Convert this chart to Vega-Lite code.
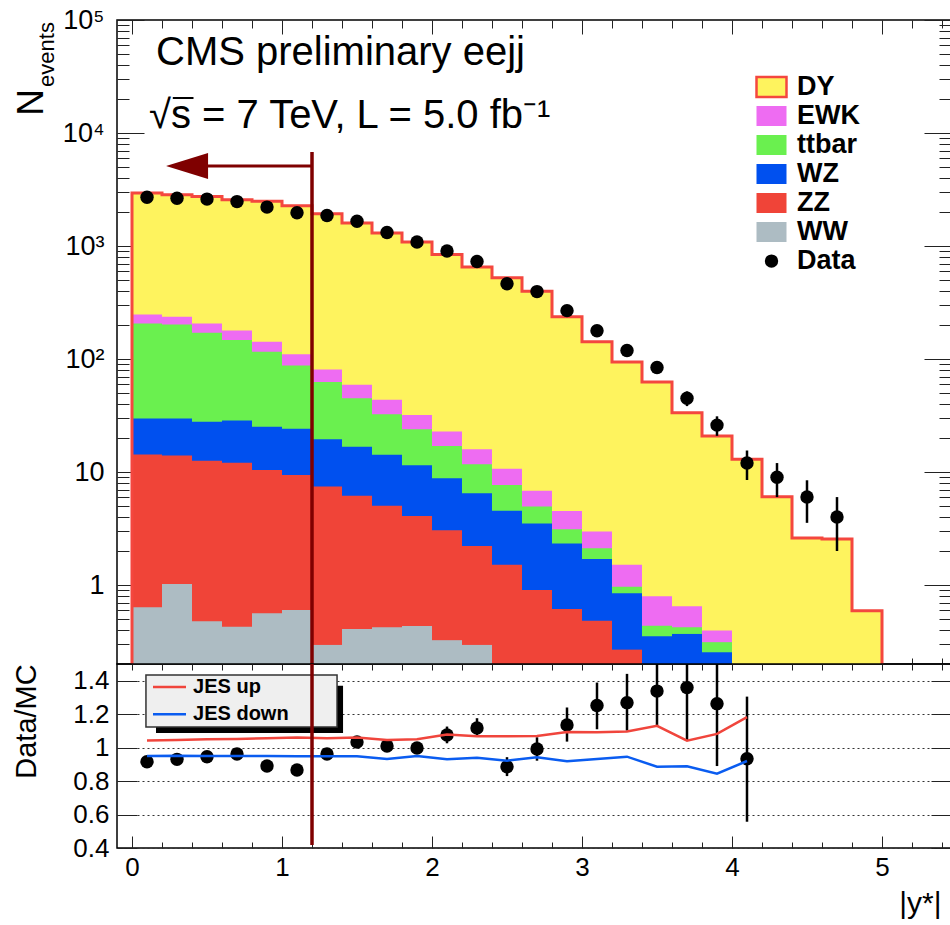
{
  "$schema": "https://vega.github.io/schema/vega-lite/v6.json",
  "padding": {"left": 11, "top": 5, "right": 0, "bottom": 0},
  "background": "white",
  "spacing": 0,
  "bounds": "flush",
  "config": {
    "view": {"stroke": "black", "strokeWidth": 1.5},
    "font": "Liberation Sans",
    "axis": {"domain": false, "grid": false, "labelFont": "Liberation Sans", "titleFont": "Liberation Sans", "labelColor": "black", "titleColor": "black", "tickColor": "#222", "tickWidth": 1, "labelOverlap": false, "titleFontWeight": "normal", "labelFlush": false}
  },
  "resolve": {"scale": {"color": "independent"}},
  "datasets": {
    "mc": [
      {"lo":0.0,"hi":0.2,"proc":"DY","top":2944},{"lo":0.0,"hi":0.2,"proc":"EWK","top":248},{"lo":0.0,"hi":0.2,"proc":"ttbar","top":206},{"lo":0.0,"hi":0.2,"proc":"WZ","top":29.7},{"lo":0.0,"hi":0.2,"proc":"ZZ","top":14.3},{"lo":0.0,"hi":0.2,"proc":"WW","top":0.635},
      {"lo":0.2,"hi":0.4,"proc":"DY","top":2845},{"lo":0.2,"hi":0.4,"proc":"EWK","top":236},{"lo":0.2,"hi":0.4,"proc":"ttbar","top":202},{"lo":0.2,"hi":0.4,"proc":"WZ","top":29.7},{"lo":0.2,"hi":0.4,"proc":"ZZ","top":14.0},{"lo":0.2,"hi":0.4,"proc":"WW","top":1.02},
      {"lo":0.4,"hi":0.6,"proc":"DY","top":2748},{"lo":0.4,"hi":0.6,"proc":"EWK","top":206},{"lo":0.4,"hi":0.6,"proc":"ttbar","top":171},{"lo":0.4,"hi":0.6,"proc":"WZ","top":27.9},{"lo":0.4,"hi":0.6,"proc":"ZZ","top":12.6},{"lo":0.4,"hi":0.6,"proc":"WW","top":0.478},
      {"lo":0.6,"hi":0.8,"proc":"DY","top":2570},{"lo":0.6,"hi":0.8,"proc":"EWK","top":179},{"lo":0.6,"hi":0.8,"proc":"ttbar","top":147},{"lo":0.6,"hi":0.8,"proc":"WZ","top":28.5},{"lo":0.6,"hi":0.8,"proc":"ZZ","top":12.1},{"lo":0.6,"hi":0.8,"proc":"WW","top":0.428},
      {"lo":0.8,"hi":1.0,"proc":"DY","top":2483},{"lo":0.8,"hi":1.0,"proc":"EWK","top":142},{"lo":0.8,"hi":1.0,"proc":"ttbar","top":116},{"lo":0.8,"hi":1.0,"proc":"WZ","top":25.2},{"lo":0.8,"hi":1.0,"proc":"ZZ","top":10.4},{"lo":0.8,"hi":1.0,"proc":"WW","top":0.562},
      {"lo":1.0,"hi":1.2,"proc":"DY","top":2276},{"lo":1.0,"hi":1.2,"proc":"EWK","top":110},{"lo":1.0,"hi":1.2,"proc":"ttbar","top":87.7},{"lo":1.0,"hi":1.2,"proc":"WZ","top":24.2},{"lo":1.0,"hi":1.2,"proc":"ZZ","top":9.43},{"lo":1.0,"hi":1.2,"proc":"WW","top":0.60},
      {"lo":1.2,"hi":1.4,"proc":"DY","top":1933},{"lo":1.2,"hi":1.4,"proc":"EWK","top":80.9},{"lo":1.2,"hi":1.4,"proc":"ttbar","top":62.5},{"lo":1.2,"hi":1.4,"proc":"WZ","top":19.5},{"lo":1.2,"hi":1.4,"proc":"ZZ","top":7.45},{"lo":1.2,"hi":1.4,"proc":"WW","top":0.295},
      {"lo":1.4,"hi":1.6,"proc":"DY","top":1600},{"lo":1.4,"hi":1.6,"proc":"EWK","top":59.3},{"lo":1.4,"hi":1.6,"proc":"ttbar","top":44.9},{"lo":1.4,"hi":1.6,"proc":"WZ","top":16.7},{"lo":1.4,"hi":1.6,"proc":"ZZ","top":6.15},{"lo":1.4,"hi":1.6,"proc":"WW","top":0.409},
      {"lo":1.6,"hi":1.8,"proc":"DY","top":1306},{"lo":1.6,"hi":1.8,"proc":"EWK","top":43.7},{"lo":1.6,"hi":1.8,"proc":"ttbar","top":32.4},{"lo":1.6,"hi":1.8,"proc":"WZ","top":14.2},{"lo":1.6,"hi":1.8,"proc":"ZZ","top":5.02},{"lo":1.6,"hi":1.8,"proc":"WW","top":0.423},
      {"lo":1.8,"hi":2.0,"proc":"DY","top":1087},{"lo":1.8,"hi":2.0,"proc":"EWK","top":32.0},{"lo":1.8,"hi":2.0,"proc":"ttbar","top":23.9},{"lo":1.8,"hi":2.0,"proc":"WZ","top":11.5},{"lo":1.8,"hi":2.0,"proc":"ZZ","top":4.09},{"lo":1.8,"hi":2.0,"proc":"WW","top":0.434},
      {"lo":2.0,"hi":2.2,"proc":"DY","top":839},{"lo":2.0,"hi":2.2,"proc":"EWK","top":22.8},{"lo":2.0,"hi":2.2,"proc":"ttbar","top":17.0},{"lo":2.0,"hi":2.2,"proc":"WZ","top":8.81},{"lo":2.0,"hi":2.2,"proc":"ZZ","top":3.06},{"lo":2.0,"hi":2.2,"proc":"WW","top":0.325},
      {"lo":2.2,"hi":2.4,"proc":"DY","top":653},{"lo":2.2,"hi":2.4,"proc":"EWK","top":15.9},{"lo":2.2,"hi":2.4,"proc":"ttbar","top":11.7},{"lo":2.2,"hi":2.4,"proc":"WZ","top":6.50},{"lo":2.2,"hi":2.4,"proc":"ZZ","top":2.22},{"lo":2.2,"hi":2.4,"proc":"WW","top":0.295},
      {"lo":2.4,"hi":2.6,"proc":"DY","top":523},{"lo":2.4,"hi":2.6,"proc":"EWK","top":10.7},{"lo":2.4,"hi":2.6,"proc":"ttbar","top":7.69},{"lo":2.4,"hi":2.6,"proc":"WZ","top":4.53},{"lo":2.4,"hi":2.6,"proc":"ZZ","top":1.51},
      {"lo":2.6,"hi":2.8,"proc":"DY","top":398},{"lo":2.6,"hi":2.8,"proc":"EWK","top":6.81},{"lo":2.6,"hi":2.8,"proc":"ttbar","top":4.96},{"lo":2.6,"hi":2.8,"proc":"WZ","top":3.51},{"lo":2.6,"hi":2.8,"proc":"ZZ","top":0.904},
      {"lo":2.8,"hi":3.0,"proc":"DY","top":236},{"lo":2.8,"hi":3.0,"proc":"EWK","top":4.51},{"lo":2.8,"hi":3.0,"proc":"ttbar","top":3.12},{"lo":2.8,"hi":3.0,"proc":"WZ","top":2.33},{"lo":2.8,"hi":3.0,"proc":"ZZ","top":0.614},
      {"lo":3.0,"hi":3.2,"proc":"DY","top":142},{"lo":3.0,"hi":3.2,"proc":"EWK","top":2.98},{"lo":3.0,"hi":3.2,"proc":"ttbar","top":2.11},{"lo":3.0,"hi":3.2,"proc":"WZ","top":1.70},{"lo":3.0,"hi":3.2,"proc":"ZZ","top":0.484},
      {"lo":3.2,"hi":3.4,"proc":"DY","top":93.9},{"lo":3.2,"hi":3.4,"proc":"EWK","top":1.51},{"lo":3.2,"hi":3.4,"proc":"ttbar","top":0.966},{"lo":3.2,"hi":3.4,"proc":"WZ","top":0.844},{"lo":3.2,"hi":3.4,"proc":"ZZ","top":0.268},
      {"lo":3.4,"hi":3.6,"proc":"DY","top":62.5},{"lo":3.4,"hi":3.6,"proc":"EWK","top":0.795},{"lo":3.4,"hi":3.6,"proc":"ttbar","top":0.437},{"lo":3.4,"hi":3.6,"proc":"WZ","top":0.352},
      {"lo":3.6,"hi":3.8,"proc":"DY","top":33.5},{"lo":3.6,"hi":3.8,"proc":"EWK","top":0.649},{"lo":3.6,"hi":3.8,"proc":"ttbar","top":0.423},{"lo":3.6,"hi":3.8,"proc":"WZ","top":0.369},
      {"lo":3.8,"hi":4.0,"proc":"DY","top":20.8},{"lo":3.8,"hi":4.0,"proc":"EWK","top":0.395},{"lo":3.8,"hi":4.0,"proc":"ttbar","top":0.312},{"lo":3.8,"hi":4.0,"proc":"WZ","top":0.254},
      {"lo":4.0,"hi":4.2,"proc":"DY","top":13.0},
      {"lo":4.2,"hi":4.4,"proc":"DY","top":6.03},
      {"lo":4.4,"hi":4.6,"proc":"DY","top":2.60},
      {"lo":4.6,"hi":4.8,"proc":"DY","top":2.55},
      {"lo":4.8,"hi":5.0,"proc":"DY","top":0.593}
    ],
    "outline": [
      {"i":0,"x":0.0,"y":0.2},{"i":1,"x":0.0,"y":2944},{"i":2,"x":0.2,"y":2845},{"i":3,"x":0.4,"y":2748},{"i":4,"x":0.6,"y":2570},
      {"i":5,"x":0.8,"y":2483},{"i":6,"x":1.0,"y":2276},{"i":7,"x":1.2,"y":1933},{"i":8,"x":1.4,"y":1600},{"i":9,"x":1.6,"y":1306},
      {"i":10,"x":1.8,"y":1087},{"i":11,"x":2.0,"y":839},{"i":12,"x":2.2,"y":653},{"i":13,"x":2.4,"y":523},{"i":14,"x":2.6,"y":398},
      {"i":15,"x":2.8,"y":236},{"i":16,"x":3.0,"y":142},{"i":17,"x":3.2,"y":93.9},{"i":18,"x":3.4,"y":62.5},{"i":19,"x":3.6,"y":33.5},
      {"i":20,"x":3.8,"y":20.8},{"i":21,"x":4.0,"y":13.0},{"i":22,"x":4.2,"y":6.03},{"i":23,"x":4.4,"y":2.60},{"i":24,"x":4.6,"y":2.55},
      {"i":25,"x":4.8,"y":0.593},{"i":26,"x":5.0,"y":0.593},{"i":27,"x":5.0,"y":0.2}
    ],
    "obs": [
      {"x":0.1,"n":2697,"lo":2645,"hi":2749},{"x":0.3,"n":2646,"lo":2595,"hi":2697},{"x":0.5,"n":2600,"lo":2549,"hi":2651},
      {"x":0.7,"n":2472,"lo":2422,"hi":2522},{"x":0.9,"n":2210,"lo":2163,"hi":2257},{"x":1.1,"n":1971,"lo":1927,"hi":2015},
      {"x":1.3,"n":1860,"lo":1817,"hi":1903},{"x":1.5,"n":1654,"lo":1613,"hi":1695},{"x":1.7,"n":1319,"lo":1283,"hi":1355},
      {"x":1.9,"n":1085,"lo":1052,"hi":1118},{"x":2.1,"n":903,"lo":873,"hi":933},{"x":2.3,"n":730,"lo":703,"hi":757},
      {"x":2.5,"n":463,"lo":441,"hi":485},{"x":2.7,"n":395,"lo":375,"hi":415},{"x":2.9,"n":268,"lo":252,"hi":284},
      {"x":3.1,"n":178,"lo":165,"hi":191},{"x":3.3,"n":119,"lo":108,"hi":130},{"x":3.5,"n":84,"lo":75,"hi":93},
      {"x":3.7,"n":45,"lo":38.3,"hi":51.7},{"x":3.9,"n":26,"lo":20.9,"hi":31.1},{"x":4.1,"n":12,"lo":8.5,"hi":15.5},
      {"x":4.3,"n":9,"lo":6,"hi":12},{"x":4.5,"n":6,"lo":3.55,"hi":8.45},{"x":4.7,"n":4,"lo":2,"hi":6}
    ],
    "ratio": [
      {"x":0.1,"r":0.916,"lo":0.900,"hi":0.932,"up":1.042,"down":0.950},
      {"x":0.3,"r":0.930,"lo":0.914,"hi":0.946,"up":1.046,"down":0.952},
      {"x":0.5,"r":0.946,"lo":0.930,"hi":0.962,"up":1.050,"down":0.950},
      {"x":0.7,"r":0.962,"lo":0.946,"hi":0.978,"up":1.052,"down":0.950},
      {"x":0.9,"r":0.890,"lo":0.874,"hi":0.906,"up":1.056,"down":0.950},
      {"x":1.1,"r":0.866,"lo":0.850,"hi":0.882,"up":1.060,"down":0.948},
      {"x":1.3,"r":0.962,"lo":0.944,"hi":0.980,"up":1.056,"down":0.948},
      {"x":1.5,"r":1.034,"lo":1.012,"hi":1.056,"up":1.060,"down":0.948},
      {"x":1.7,"r":1.010,"lo":0.986,"hi":1.034,"up":1.046,"down":0.932},
      {"x":1.9,"r":0.998,"lo":0.972,"hi":1.024,"up":1.050,"down":0.950},
      {"x":2.1,"r":1.076,"lo":1.026,"hi":1.126,"up":1.078,"down":0.930},
      {"x":2.3,"r":1.118,"lo":1.070,"hi":1.176,"up":1.068,"down":0.940},
      {"x":2.5,"r":0.886,"lo":0.830,"hi":0.943,"up":1.068,"down":0.922},
      {"x":2.7,"r":0.992,"lo":0.922,"hi":1.062,"up":1.070,"down":0.942},
      {"x":2.9,"r":1.136,"lo":1.036,"hi":1.240,"up":1.094,"down":0.918},
      {"x":3.1,"r":1.252,"lo":1.110,"hi":1.389,"up":1.092,"down":0.932},
      {"x":3.3,"r":1.269,"lo":1.102,"hi":1.441,"up":1.096,"down":0.946},
      {"x":3.5,"r":1.338,"lo":1.130,"hi":1.500,"up":1.130,"down":0.886},
      {"x":3.7,"r":1.359,"lo":1.042,"hi":1.500,"up":1.042,"down":0.888},
      {"x":3.9,"r":1.263,"lo":0.890,"hi":1.500,"up":1.082,"down":0.844},
      {"x":4.1,"r":0.934,"lo":0.557,"hi":1.305,"up":1.182,"down":0.920}
    ]
  },
  "vconcat": [
    {
      "width": 834,
      "height": 644,
      "resolve": {"axis": {"x": "independent", "y": "independent"}},
      "layer": [
        {
          "data": {"name": "mc"},
          "mark": {"type": "rect"},
          "encoding": {
            "x": {"field": "lo", "type": "quantitative", "scale": {"domain": [-0.1, 5.46], "nice": false, "zero": false},
                  "axis": {"orient": "bottom", "values": [0,1,2,3,4,5], "labels": false, "tickSize": -10, "title": null}},
            "x2": {"field": "hi"},
            "y": {"field": "top", "type": "quantitative", "scale": {"type": "log", "domain": [0.2, 100000], "nice": false},
                  "axis": {"orient": "left", "values": [1,10,100,1000,10000,100000], "ticks": false, "labelFontSize": 27, "labelPadding": 13,
                           "labelExpr": "datum.value >= 99999 ? '10⁵' : datum.value >= 9999 ? '10⁴' : datum.value >= 999 ? '10³' : datum.value >= 99 ? '10²' : datum.value >= 9 ? '10' : '1'",
                           "title": "N", "titleFontSize": 37, "titleAngle": 270, "titleX": -75, "titleY": 82, "titleAlign": "center", "titleBaseline": "alphabetic"}},
            "y2": {"datum": 0.2},
            "color": {"field": "proc", "type": "nominal",
                      "scale": {"domain": ["DY","EWK","ttbar","WZ","ZZ","WW","Data"], "range": ["#fef35e","#ee6cf2","#6af04f","#0050ef","#f04438","#adbcc3","#000000"]},
                      "legend": {"orient": "none", "legendX": 638, "legendY": 53, "title": null, "padding": 0,
                                 "labelFont": "Liberation Sans", "labelFontWeight": "bold", "labelFontSize": 27, "labelColor": "black",
                                 "labelOffset": 9, "symbolSize": 713, "symbolStrokeWidth": 1.5, "symbolType": "M-1,-0.667L1,-0.667L1,0.667L-1,0.667Z", "rowPadding": 0,
                                 "clipHeight": 28.2,
                                 "symbolOpacity": 1,
                                 "encode": {"symbols": {"update": {
                                   "shape": {"signal": "datum.value === 'Data' ? 'circle' : 'M-1,-0.667L1,-0.667L1,0.667L-1,0.667Z'"},
                                   "size": {"signal": "datum.value === 'Data' ? 180 : 900"},
                                   "stroke": {"signal": "datum.value === 'DY' ? '#f4473f' : 'transparent'"},
                                   "strokeWidth": {"value": 2.5}}}}}}
          }
        },
        {
          "data": {"name": "outline"},
          "mark": {"type": "line", "interpolate": "step-after", "color": "#f4473f", "strokeWidth": 3},
          "encoding": {
            "x": {"field": "x", "type": "quantitative",
                  "axis": {"orient": "bottom", "values": [0.2,0.4,0.6,0.8,1.2,1.4,1.6,1.8,2.2,2.4,2.6,2.8,3.2,3.4,3.6,3.8,4.2,4.4,4.6,4.8,5.2,5.4], "labels": false, "tickSize": -6, "title": null}},
            "y": {"field": "y", "type": "quantitative",
                  "axis": {"orient": "left", "values": [0.3,0.4,0.5,0.6,0.7,0.8,0.9,2,3,4,5,6,7,8,9,20,30,40,50,60,70,80,90,200,300,400,500,600,700,800,900,2000,3000,4000,5000,6000,7000,8000,9000,20000,30000,40000,50000,60000,70000,80000,90000],
                           "labels": false, "tickSize": -12,
                           "title": "events", "titleFontSize": 22, "titleAngle": 270, "titleX": -64, "titleY": 34, "titleAlign": "center", "titleBaseline": "alphabetic"}},
            "order": {"field": "i", "type": "quantitative"}
          }
        },
        {
          "data": {"name": "obs"},
          "mark": {"type": "rule", "strokeWidth": 2.5, "color": "black"},
          "encoding": {
            "x": {"field": "x", "type": "quantitative", "axis": {"orient": "top", "values": [0,1,2,3,4,5], "labels": false, "tickSize": -14, "title": null}},
            "y": {"field": "lo", "type": "quantitative", "axis": {"orient": "left", "values": [1,10,100,1000,10000,100000], "labels": false, "tickSize": -27, "title": null}},
            "y2": {"field": "hi"}
          }
        },
        {
          "data": {"name": "obs"},
          "mark": {"type": "point", "filled": true, "size": 180, "color": "black", "opacity": 1},
          "encoding": {
            "x": {"field": "x", "type": "quantitative", "axis": {"orient": "top", "values": [0.2,0.4,0.6,0.8,1.2,1.4,1.6,1.8,2.2,2.4,2.6,2.8,3.2,3.4,3.6,3.8,4.2,4.4,4.6,4.8,5.2,5.4], "labels": false, "tickSize": -8, "title": null}},
            "y": {"field": "n", "type": "quantitative", "axis": {"orient": "right", "values": [1,10,100,1000,10000,100000], "labels": false, "tickSize": -27, "title": null}}
          }
        },
        {
          "data": {"values": [{}]},
          "mark": {"type": "rule", "color": "#7f0000", "strokeWidth": 3.5},
          "encoding": {
            "x": {"datum": 1.2, "type": "quantitative", "axis": null},
            "y": {"datum": 6790, "type": "quantitative",
                  "axis": {"orient": "right", "values": [0.3,0.4,0.5,0.6,0.7,0.8,0.9,2,3,4,5,6,7,8,9,20,30,40,50,60,70,80,90,200,300,400,500,600,700,800,900,2000,3000,4000,5000,6000,7000,8000,9000,20000,30000,40000,50000,60000,70000,80000,90000],
                           "labels": false, "tickSize": -12, "title": null}},
            "y2": {"datum": 0.2}
          }
        },
        {
          "data": {"values": [{}]},
          "mark": {"type": "rule", "color": "#7f0000", "strokeWidth": 3},
          "encoding": {
            "x": {"datum": 0.5, "type": "quantitative", "axis": null},
            "x2": {"datum": 1.2},
            "y": {"datum": 5105, "type": "quantitative", "axis": null}
          }
        },
        {
          "data": {"values": [{}]},
          "mark": {"type": "point", "shape": "M-1,0L1,-0.62L1,0.62Z", "filled": true, "size": 1764, "color": "#7f0000", "opacity": 1},
          "encoding": {
            "x": {"datum": 0.367, "type": "quantitative", "axis": null},
            "y": {"datum": 5105, "type": "quantitative", "axis": null}
          }
        },
        {
          "data": {"values": [{}]},
          "mark": {"type": "text", "text": "CMS preliminary eejj", "font": "Liberation Sans", "fontSize": 40, "align": "left", "baseline": "alphabetic", "color": "black"},
          "encoding": {
            "x": {"datum": 0.16, "type": "quantitative", "axis": null},
            "y": {"datum": 40050, "type": "quantitative", "axis": null}
          }
        },
        {
          "data": {"values": [{}]},
          "mark": {"type": "text", "text": "√s = 7 TeV, L = 5.0 fb⁻¹", "font": "Liberation Sans", "fontSize": 40, "align": "left", "baseline": "alphabetic", "color": "black"},
          "encoding": {
            "x": {"datum": 0.113, "type": "quantitative", "axis": null},
            "y": {"datum": 11120, "type": "quantitative", "axis": null}
          }
        },
        {
          "data": {"values": [{}]},
          "mark": {"type": "rule", "color": "black", "strokeWidth": 2},
          "encoding": {
            "x": {"datum": 0.272, "type": "quantitative", "axis": null},
            "x2": {"datum": 0.41},
            "y": {"datum": 20400, "type": "quantitative", "axis": null}
          }
        }
      ]
    },
    {
      "width": 834,
      "height": 184,
      "resolve": {"axis": {"x": "independent", "y": "independent"}},
      "layer": [
        {
          "data": {"name": "ratio"},
          "mark": {"type": "rule", "strokeWidth": 2.5, "color": "black"},
          "encoding": {
            "x": {"field": "x", "type": "quantitative", "scale": {"domain": [-0.1, 5.46], "nice": false, "zero": false},
                  "axis": {"orient": "bottom", "values": [0,1,2,3,4,5], "ticks": false, "labelFontSize": 26, "labelPadding": 6,
                           "title": "|y*|", "titleFontSize": 30, "titleX": 824, "titleY": 64, "titleAlign": "right", "titleBaseline": "alphabetic"}},
            "y": {"field": "lo", "type": "quantitative", "scale": {"domain": [0.4, 1.5], "nice": false, "zero": false},
                  "axis": {"orient": "left", "values": [0.4,0.6,0.8,1,1.2,1.4], "ticks": false, "format": "~g", "labelFontSize": 26, "labelPadding": 8,
                           "grid": true, "gridDash": [2,3], "gridColor": "#333", "gridWidth": 1,
                           "title": "Data/MC", "titleFontSize": 29, "titleAngle": 270, "titleX": -82, "titleY": 57, "titleAlign": "center", "titleBaseline": "alphabetic"}},
            "y2": {"field": "hi"}
          }
        },
        {
          "data": {"name": "ratio"},
          "mark": {"type": "point", "filled": true, "size": 180, "color": "black", "opacity": 1},
          "encoding": {
            "x": {"field": "x", "type": "quantitative", "axis": {"orient": "bottom", "values": [0,1,2,3,4,5], "labels": false, "tickSize": -12, "title": null}},
            "y": {"field": "r", "type": "quantitative", "axis": {"orient": "left", "values": [0.4,0.6,0.8,1,1.2,1.4], "labels": false, "tickSize": -20, "title": null}}
          }
        },
        {
          "data": {"name": "ratio"},
          "mark": {"type": "line", "color": "#f0453c", "strokeWidth": 2.5},
          "encoding": {
            "x": {"field": "x", "type": "quantitative", "axis": {"orient": "bottom", "values": [0.2,0.4,0.6,0.8,1.2,1.4,1.6,1.8,2.2,2.4,2.6,2.8,3.2,3.4,3.6,3.8,4.2,4.4,4.6,4.8,5.2,5.4], "labels": false, "tickSize": -6, "title": null}},
            "y": {"field": "up", "type": "quantitative", "axis": {"orient": "right", "values": [0.4,0.6,0.8,1,1.2,1.4], "labels": false, "tickSize": -20, "title": null}}
          }
        },
        {
          "data": {"name": "ratio"},
          "mark": {"type": "line", "color": "#0a5cf0", "strokeWidth": 2.5},
          "encoding": {
            "x": {"field": "x", "type": "quantitative", "axis": {"orient": "top", "values": [0,0.2,0.4,0.6,0.8,1,1.2,1.4,1.6,1.8,2,2.2,2.4,2.6,2.8,3,3.2,3.4,3.6,3.8,4,4.2,4.4,4.6,4.8,5,5.2,5.4], "labels": false, "tickSize": -6, "title": null}},
            "y": {"field": "down", "type": "quantitative", "axis": null}
          }
        },
        {
          "data": {"values": [{}]},
          "mark": {"type": "rect", "color": "black"},
          "encoding": {
            "x": {"datum": 0.16, "type": "quantitative", "axis": null},
            "x2": {"datum": 1.407},
            "y": {"datum": 1.37, "type": "quantitative", "axis": null},
            "y2": {"datum": 1.0876}
          }
        },
        {
          "data": {"values": [{}]},
          "mark": {"type": "rect", "fill": "#efefef", "stroke": "#333", "strokeWidth": 1.5},
          "encoding": {
            "x": {"datum": 0.093, "type": "quantitative", "axis": null},
            "x2": {"datum": 1.367},
            "y": {"datum": 1.434, "type": "quantitative", "axis": null},
            "y2": {"datum": 1.1234}
          }
        },
        {
          "data": {"values": [{}]},
          "mark": {"type": "rule", "color": "#f0453c", "strokeWidth": 2.5},
          "encoding": {
            "x": {"datum": 0.14, "type": "quantitative", "axis": null},
            "x2": {"datum": 0.36},
            "y": {"datum": 1.3625, "type": "quantitative", "axis": null}
          }
        },
        {
          "data": {"values": [{}]},
          "mark": {"type": "rule", "color": "#0a5cf0", "strokeWidth": 2.5},
          "encoding": {
            "x": {"datum": 0.14, "type": "quantitative", "axis": null},
            "x2": {"datum": 0.36},
            "y": {"datum": 1.1993, "type": "quantitative", "axis": null}
          }
        },
        {
          "data": {"values": [{}]},
          "mark": {"type": "text", "text": "JES up", "font": "Liberation Sans", "fontWeight": "bold", "fontSize": 20, "align": "left", "baseline": "middle", "color": "black"},
          "encoding": {
            "x": {"datum": 0.407, "type": "quantitative", "axis": null},
            "y": {"datum": 1.3625, "type": "quantitative", "axis": null}
          }
        },
        {
          "data": {"values": [{}]},
          "mark": {"type": "text", "text": "JES down", "font": "Liberation Sans", "fontWeight": "bold", "fontSize": 20, "align": "left", "baseline": "middle", "color": "black"},
          "encoding": {
            "x": {"datum": 0.407, "type": "quantitative", "axis": null},
            "y": {"datum": 1.1993, "type": "quantitative", "axis": null}
          }
        },
        {
          "data": {"values": [{}]},
          "mark": {"type": "rule", "color": "#7f0000", "strokeWidth": 3.5},
          "encoding": {
            "x": {"datum": 1.2, "type": "quantitative", "axis": null},
            "y": {"datum": 1.5, "type": "quantitative", "axis": null},
            "y2": {"datum": 0.418}
          }
        }
      ]
    }
  ]
}
